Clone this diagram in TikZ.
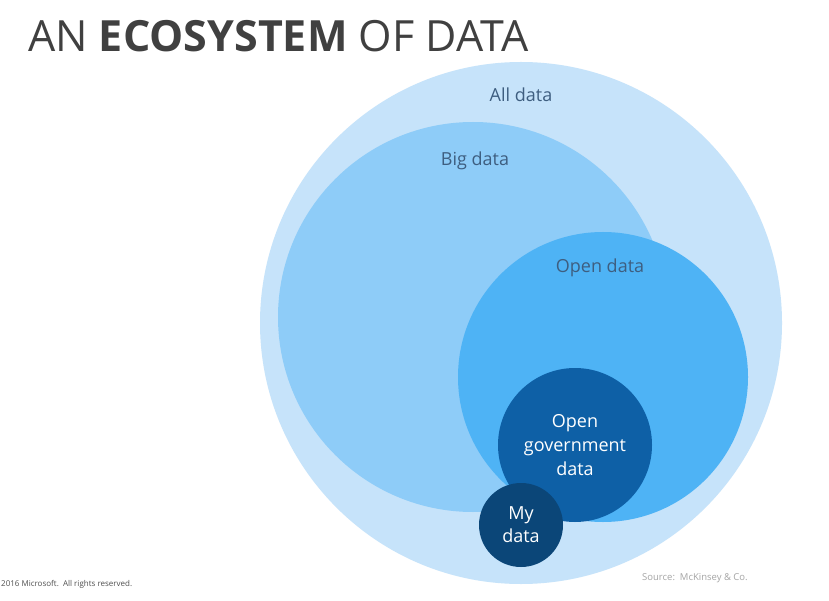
\documentclass[tikz,border=0pt]{standalone}
\usepackage{fontspec}
\setmainfont{Open Sans}
\usetikzlibrary{positioning}
\usepackage{color}
\definecolor{allblue}{RGB}{198,227,250}
\definecolor{bigblue}{RGB}{142,204,248}
\definecolor{openblue}{RGB}{78,179,245}
\definecolor{govblue}{RGB}{14,96,166}
\definecolor{myblue}{RGB}{11,70,120}
\definecolor{tagslate}{RGB}{62,94,128}
\definecolor{titlegrey}{RGB}{64,64,64}
\definecolor{notegrey}{RGB}{80,80,80}
\definecolor{sourcegrey}{RGB}{165,165,165}
\newcommand{\tagsize}{\fontsize{18}{20}\selectfont}
\newcommand{\innersize}{\fontsize{18}{24}\selectfont}
\tikzset{
    blob/.style={circle, inner sep=0pt, draw=none},
    tag/.style={text=tagslate, font=\tagsize},
    inner/.style={blob, text=white, align=center, font=\innersize},
    note/.style={anchor=base west, inner sep=0pt},
}

\begin{document}
\begin{tikzpicture}[x=1pt, y=-1pt]
    \useasboundingbox[fill=white] (0,0) rectangle (829,601);
    % circles, from the outside in
    \node[blob, fill=allblue, minimum size=522pt] (all) at (521,323) {};
    \node[blob, fill=bigblue, minimum size=390pt] (big) at (473,317) {};
    \node[blob, fill=openblue, minimum size=290pt] (open) at (603,377) {};
    \node[inner, fill=govblue, minimum size=154pt] (gov) at (575,445) {Open\\government\\data};
    \node[inner, fill=myblue, minimum size=84pt, font=\fontsize{18}{23}\selectfont] (my) at (521,525) {My\\data};
    % labels
    \node[tag] (alltag) at (521,95) {All data};
    \node[tag] (bigtag) at (475,161) {Big data};
    \node[tag] (opentag) at (600,268) {Open data};
    % title and notes
    \node[note, text=titlegrey, font=\fontsize{43}{48}\selectfont] (title) at (28,52) {AN \textbf{ECOSYSTEM} OF DATA};
    \node[note, text=notegrey, font=\fontsize{8}{9}\selectfont] (rights) at (1,586) {2016 Microsoft.\ \ All rights reserved.};
    \node[note, text=sourcegrey, font=\fontsize{9.5}{11}\selectfont] (source) at (642,580) {Source:\ \ McKinsey \& Co.};
\end{tikzpicture}
\end{document}
